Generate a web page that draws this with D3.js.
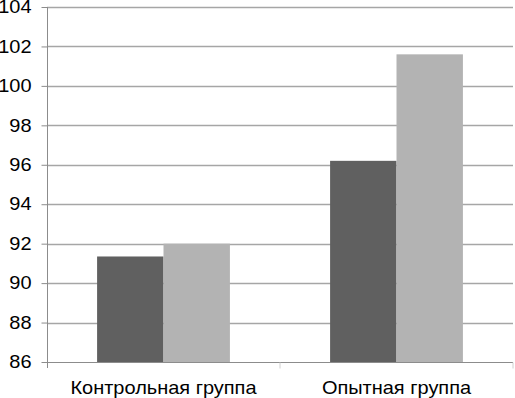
<!DOCTYPE html>
<html>
<head>
<meta charset="utf-8">
<script src="https://cdn.jsdelivr.net/npm/d3@7"></script>
<style>
  body { margin: 0; background: #fff; }
  svg { display: block; font-family: "Liberation Sans", Arial, sans-serif; }
</style>
</head>
<body>
<div id="chart"></div>
<script>
const categories = ["Контрольная группа", "Опытная группа"]
const seriesNames = ["s1", "s2"]
const darkValues = [91.35, 96.2]
const lightValues = [92.0, 101.6]
const yTicks = [86, 88, 90, 92, 94, 96, 98, 100, 102, 104]

const canvas = { width: 515, height: 398, margin: { top: 7, bottom: 36, left: 47, right: 2 } }
const stretch = 1.11

const svg = d3.select("#chart").append("svg")
  .attr("width", canvas.width).attr("height", canvas.height)

const x = d3.scaleBand().domain(categories)
  .range([canvas.margin.left, canvas.width - canvas.margin.right])
const x1 = d3.scaleBand().domain(seriesNames)
  .range([0, x.bandwidth() * 0.57]).padding(0)
const y = d3.scaleLinear().domain([86, 104])
  .range([canvas.height - canvas.margin.bottom, canvas.margin.top])

// grid
svg.append("g").selectAll("line").data(yTicks.slice(1)).join("line")
  .attr("x1", canvas.margin.left).attr("x2", canvas.width - canvas.margin.right)
  .attr("y1", d => Math.round(y(d)) + 0.5).attr("y2", d => Math.round(y(d)) + 0.5)
  .attr("stroke", "#a6a6a6").attr("stroke-width", 1.3)

// bars
const data = categories.map((c, i) => ({ cat: c, vals: [darkValues[i], lightValues[i]] }))
const colors = ["#606060", "#b3b3b3"]
const groups = svg.append("g").selectAll("g").data(data).join("g")
  .attr("transform", d => `translate(${x(d.cat) + (x.bandwidth() - x1.range()[1]) / 2},0)`)
groups.selectAll("rect").data(d => d.vals.map((v, j) => ({ v, s: seriesNames[j], j })))
  .join("rect")
  .attr("x", d => x1(d.s)).attr("width", x1.bandwidth())
  .attr("y", d => y(d.v)).attr("height", d => y(86) - y(d.v))
  .attr("fill", d => colors[d.j])

// y axis
const yAxis = svg.append("g").attr("transform", `translate(${canvas.margin.left + 0.5},0)`)
  .call(d3.axisLeft(y).tickValues(yTicks).tickSize(6).tickPadding(10).tickFormat(d3.format("d")))
yAxis.select(".domain").attr("stroke", "#8c8c8c").attr("d", `M0,${y(104)}V${y(86) + 6}`)
yAxis.selectAll(".tick line").attr("stroke", "#8c8c8c")
yAxis.selectAll("text").attr("font-size", 18).attr("fill", "#000")
  .attr("font-family", "Liberation Sans, Arial, sans-serif")
  .attr("x", 0).attr("transform", `translate(-16,0) scale(${stretch},1)`)

// x axis
const xAxis = svg.append("g").attr("transform", `translate(0,${Math.round(y(86)) + 0.5})`)
xAxis.append("line").attr("x1", canvas.margin.left).attr("x2", canvas.width - canvas.margin.right)
  .attr("stroke", "#8c8c8c")
xAxis.selectAll(".sep").data(categories.slice(1).concat(["end"])).join("line")
  .attr("x1", (d, i) => i < categories.length - 1 ? x(d) : canvas.width - canvas.margin.right)
  .attr("x2", (d, i) => i < categories.length - 1 ? x(d) : canvas.width - canvas.margin.right)
  .attr("y1", 0).attr("y2", 6).attr("stroke", "#d0d0d0")
xAxis.selectAll("text").data(categories).join("text")
  .attr("transform", d => `translate(${x(d) + x.bandwidth() / 2},31) scale(${stretch},1)`)
  .attr("text-anchor", "middle").attr("font-size", 18).attr("fill", "#000")
  .text(d => d)
</script>
</body>
</html>
